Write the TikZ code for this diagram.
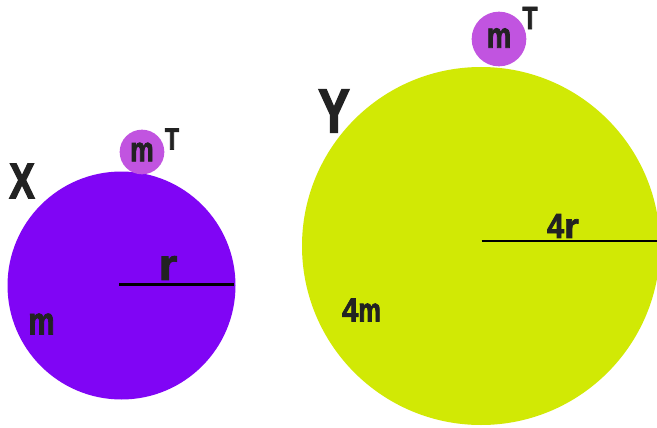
\documentclass[tikz,border=0pt]{standalone}
\usepackage{fontspec}
\newfontfamily\labfont[FakeStretch=0.76,FakeBold=2.2]{Liberation Sans}
\newfontfamily\labfontw[FakeStretch=1.1,FakeBold=2.2]{Liberation Sans}
\newfontfamily\labfontd[FakeStretch=0.88,FakeBold=2.2]{Liberation Sans}
\definecolor{xpurple}{RGB}{128,5,245}
\definecolor{ygreen}{RGB}{209,233,5}
\definecolor{moonc}{RGB}{193,84,224}
\definecolor{ink}{RGB}{34,34,34}
\tikzset{
  body/.style={circle,inner sep=0pt,draw=none},
  moon/.style={body,fill=moonc},
  lab/.style={inner sep=0pt,text=ink,anchor=center},
  rad/.style={line width=1.9pt,black}
}
\newcommand{\fsz}[1]{\labfont\bfseries\fontsize{#1}{#1}\selectfont}
\newcommand{\widerr}{{\labfontw\bfseries r}}
\newcommand{\digitw}[1]{{\labfontd\bfseries #1}}
\begin{document}
\begin{tikzpicture}[x=0.75pt,y=-0.75pt]
\clip (0,0) rectangle (657,428);
\fill[white] (0,0) rectangle (657,428);
% planet X
\node[body,fill=xpurple,minimum size=171pt] (X) at (121.5,285.5) {};
\node[moon,minimum size=33.5pt] (mx) at (142,152) {};
\node[lab,font=\fsz{26}] (mxl) at (142,152) {m};
\node[lab,font=\fsz{23}] (tx) at (172,139) {T};
\node[lab,font=\fsz{38}] (xl) at (22,181) {X};
\coordinate (xr0) at (119,284.3);
\coordinate (xr1) at (234,284.3);
\draw[rad] (xr0) -- (xr1);
\node[lab,font=\fsz{33}] (rl) at (168,268) {\widerr};
\node[lab,font=\fsz{29}] (xm) at (41.5,324) {m};
% planet Y
\node[body,fill=ygreen,minimum size=268.5pt] (Y) at (481,246) {};
\node[moon,minimum size=41pt] (my) at (499,39) {};
\node[lab,font=\fsz{27}] (myl) at (499,38) {m};
\node[lab,font=\fsz{24}] (ty) at (530,18) {T};
\node[lab,font=\fsz{47}] (yl) at (334,111) {Y};
\coordinate (yr0) at (481.5,241);
\coordinate (yr1) at (657,241);
\draw[rad] (yr0) -- (yr1);
\node[lab,font=\fsz{26}] (rl4) at (563,226) {\digitw{4}\widerr};
\node[lab,font=\fsz{25}] (ym) at (361.5,310) {\digitw{4}m};
\end{tikzpicture}
\end{document}
